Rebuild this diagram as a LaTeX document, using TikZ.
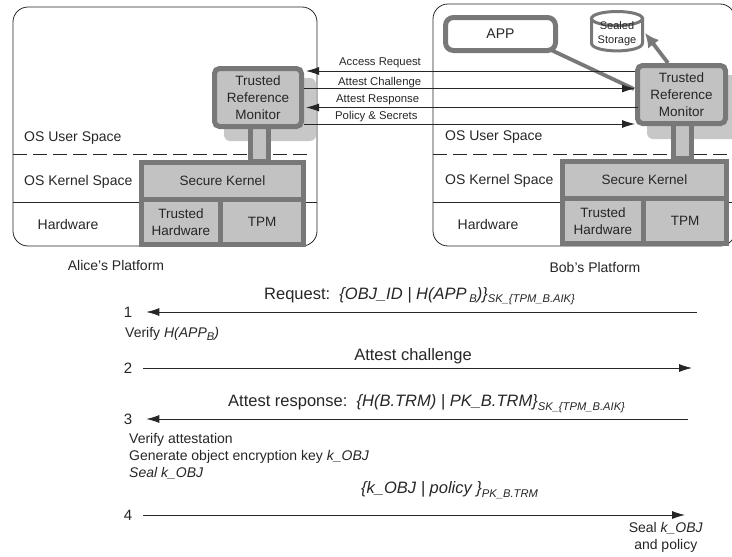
\documentclass[tikz,border=0pt]{standalone}
\usepackage{fontspec}
\setmainfont{Liberation Sans}
\usetikzlibrary{arrows.meta}

\definecolor{boxfill}{gray}{0.76}
\definecolor{boxline}{gray}{0.47}
\definecolor{shadefill}{gray}{0.78}
\definecolor{ink}{gray}{0.15}

\newcommand{\lowsub}[1]{\raisebox{-3.5pt}{\fontsize{11.2}{11}\selectfont\itshape #1}}

\tikzset{
    platform/.style={draw=ink, line width=.8pt, rounded corners=15pt},
    block/.style={draw=boxline, fill=boxfill, line width=5pt, outer sep=0pt, inner sep=0pt, align=center, text=ink, anchor=north west, font=\fontsize{13.5}{17}\selectfont},
    trm/.style={block, rounded corners=5pt},
    sidetext/.style={text=ink, inner sep=0pt, font=\fontsize{14}{16}\selectfont},
    msg/.style={text=ink, inner sep=0pt, anchor=west, font=\fontsize{11.3}{13}\selectfont},
    stepnum/.style={text=ink, inner sep=0pt, font=\fontsize{15}{16}\selectfont},
    steptext/.style={text=ink, inner sep=0pt, font=\fontsize{16.5}{18}\selectfont},
    note/.style={text=ink, inner sep=0pt, align=left, font=\fontsize{14}{17}\selectfont},
    post/.style={draw=ink, line width=.8pt, -{Latex[length=13pt,width=8pt]}},
    thick link/.style={draw=boxline, line width=3.8pt},
}

\begin{document}
\begin{tikzpicture}[x=1pt, y=-1pt]
    \useasboundingbox (0,0) rectangle (732,557);

    % draw platforms
    \begin{scope}
        \clip (0,0) rectangle (732,557);
        \draw [platform] (13,7) rectangle (317,246);
        \draw [platform] (433,4) rectangle (735,246);
        \foreach \x/\X in {13/311, 433/732}
            \draw [ink, line width=.8pt, dash pattern=on 14pt off 6pt] (\x,154) -- (\X,154);
        \foreach \x/\X in {13/317, 433/732}
            \draw [ink, line width=.8pt] (\x,202) -- (\X,202);
        \foreach \x/\X/\y/\Y in {224/316/78/141, 647/745/75/139}
            \fill [shadefill, rounded corners=6pt] (\x,\y) rectangle (\X,\Y);
    \end{scope}

    % draw side labels
    \foreach \x/\y/\t/\n in {24/138/{OS User Space}/au, 24/182/{OS Kernel Space}/ak, 445/137/{OS User Space}/bu, 445/181/{OS Kernel Space}/bk}
        \node [sidetext, anchor=west] (l\n) at (\x,\y) {\t};
    \foreach \x/\y/\t/\n in {68/224/Hardware/ah, 488/224/Hardware/bh, 116/265.5/{Alice's Platform}/ap, 595/267/{Bob's Platform}/bp}
        \node [sidetext] (l\n) at (\x,\y) {\t};

    % draw blocks
    \foreach \x/\y/\n/\w in {214.5/68.5/a/87, 637.5/65.5/b/88} {
        \node [block, anchor=center, minimum width=18pt, minimum height=36pt] (vLink\n) at (\x+45,\y+75) {};
        \node [trm, minimum width=\w pt, minimum height=58pt] (vTrm\n) at (\x,\y) {Trusted\\Reference\\Monitor};
    }
    \foreach \x/\y/\n/\w in {141.5/162.5/a/79, 562.5/161.5/b/81} {
        \node [block, minimum width=\w pt+83pt, minimum height=37pt] (vKernel\n) at (\x,\y) {Secure Kernel};
        \node [block, minimum width=\w pt, minimum height=45pt] (vHw\n) at (\x,\y+37) {Trusted\\Hardware};
        \node [block, minimum width=83pt, minimum height=45pt] (vTpm\n) at (\x+\w,\y+37) {TPM};
    }

    \node [draw=boxline, fill=white, line width=5pt, rounded corners=8pt, minimum width=110pt, minimum height=33pt, text=ink, inner sep=0pt, font=\fontsize{14}{16}\selectfont] (vApp) at (500.5,34) {APP};

    % draw storage drum
    \draw [boxline, fill=white, line width=3pt] (591.5,19) -- (591.5,43) .. controls (591.5,53.5) and (642.5,53.5) .. (642.5,43) -- (642.5,19) -- cycle;
    \draw [boxline, fill=white, line width=3pt] (617,18.5) ellipse [x radius=25.5, y radius=7];
    \node [align=center, text=ink, inner sep=0pt, font=\fontsize{11}{14}\selectfont] (vStorage) at (617,34) {Sealed\\Storage};

    % draw thick links
    \coordinate (cAppOut) at (549,49);
    \coordinate (cAppIn) at (634,89);
    \coordinate (cTrmOut) at (668,63);
    \coordinate (cStoreIn) at (645,33);
    \draw [thick link] (cAppOut) -- (cAppIn);
    \draw [thick link, -{Latex[length=14pt,width=14pt]}] (cTrmOut) -- (cStoreIn);

    % draw messages
    \foreach \y/\t/\n/\lx/\rx/\ly/\tx in {71/{Access Request}/a/306/635/63/339, 107.5/{Attest Response}/c/306/638/100/336} {
        \coordinate (cL\n) at (\lx,\y);
        \coordinate (cR\n) at (\rx,\y);
        \draw [post] (cR\n) -- (cL\n);
        \node [msg] (m\n) at (\tx,\ly) {\t};
    }
    \foreach \y/\t/\n/\lx/\rx/\ly/\tx in {88.5/{Attest Challenge}/b/304/635/83/338, 124/{Policy \& Secrets}/d/304/635/117/335} {
        \coordinate (cL\n) at (\lx,\y);
        \coordinate (cR\n) at (\rx,\y);
        \draw [post] (cL\n) -- (cR\n);
        \node [msg] (m\n) at (\tx,\ly) {\t};
    }

    % draw protocol steps
    \foreach \i/\y in {1/312, 2/368, 3/419, 4/515}
        \node [stepnum] (s\i) at (128,\y) {\i};

    \coordinate (e1) at (697,312);
    \coordinate (e2) at (692,368);
    \coordinate (e3) at (688,419);
    \coordinate (e4) at (685,515);
    \draw [post, shorten >=14pt] (e1) -- (s1);
    \draw [post, shorten <=11pt] (s2) -- (e2);
    \draw [post, shorten >=14pt] (e3) -- (s3);
    \draw [post, shorten <=11pt] (s4) -- (e4);

    \node [steptext, anchor=west] (t1) at (264,296) {Request:\ \ \textit{\{OBJ\_ID | H(APP\,\lowsub{B})\}}\lowsub{SK\_\{TPM\_B.AIK\}}};
    \node [steptext] (t2) at (413,356) {Attest challenge};
    \node [steptext, anchor=west] (t3) at (228,403.5) {Attest response:\ \ \textit{\{H(B.TRM) | PK\_B.TRM\}}\lowsub{SK\_\{TPM\_B.AIK\}}};
    \node [steptext, anchor=west] (t4) at (361,490) {\textit{\{k\_OBJ | policy \}}\lowsub{PK\_B.TRM}};

    % draw notes
    \node [note, anchor=west] (n1) at (125,334) {Verify \textit{H(APP\lowsub{B})}};
    \node [note, anchor=north west] (n3) at (129,433) {Verify attestation\\Generate object encryption key \textit{k\_OBJ}\\\textit{Seal k\_OBJ}};
    \node [note, anchor=north east, align=center] (n4) at (703,522) {Seal \textit{k\_OBJ}\\and policy};

\end{tikzpicture}
\end{document}
